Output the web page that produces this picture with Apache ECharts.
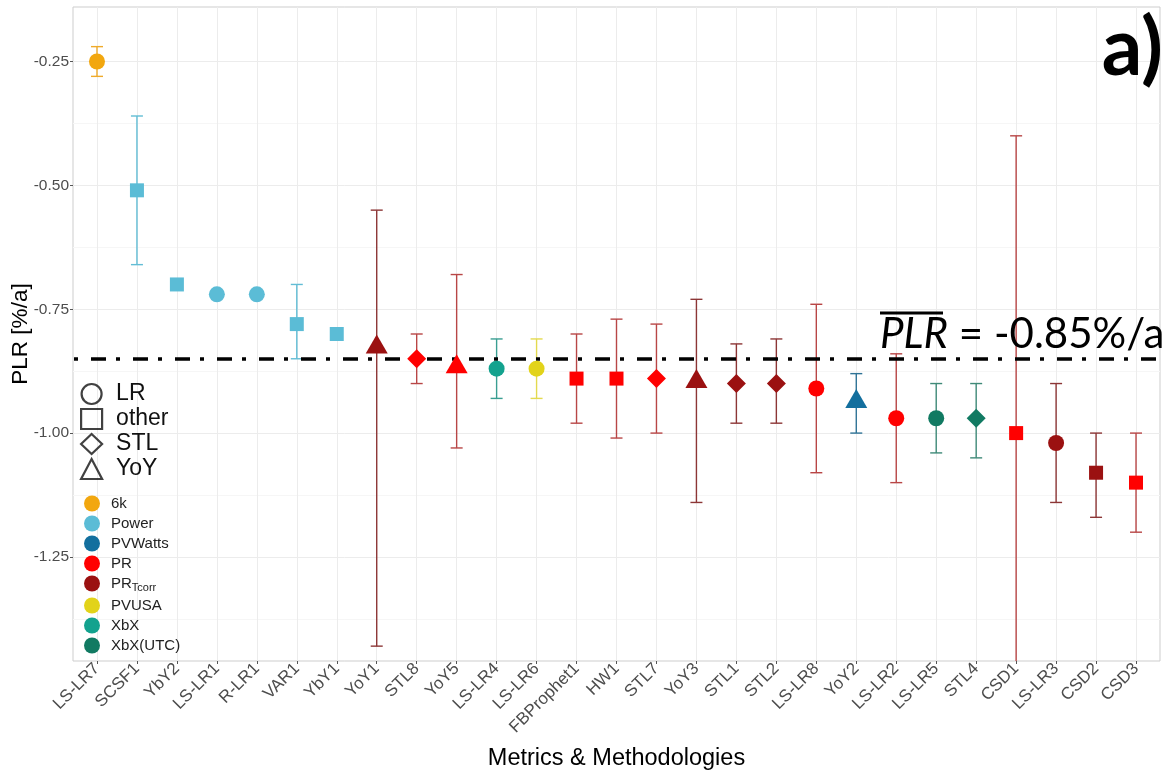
<!DOCTYPE html>
<html>
<head>
<meta charset="utf-8">
<script src="https://cdn.jsdelivr.net/npm/echarts@6/dist/echarts.min.js"></script>
<style>
  html, body { margin: 0; padding: 0; background: #fff; }
  #chart { width: 1166px; height: 774px; }
</style>
</head>
<body>
<div id="chart"></div>
<script>
// data
const methods = ['LS-LR7', 'SCSF1', 'YbY2', 'LS-LR1', 'R-LR1', 'VAR1', 'YbY1', 'YoY1', 'STL8', 'YoY5',
  'LS-LR4', 'LS-LR6', 'FBProphet1', 'HW1', 'STL7', 'YoY3', 'STL1', 'STL2', 'LS-LR8', 'YoY2',
  'LS-LR2', 'LS-LR5', 'STL4', 'CSD1', 'LS-LR3', 'CSD2', 'CSD3'];
const plr = [-0.25, -0.51, -0.70, -0.72, -0.72, -0.78, -0.80, -0.82, -0.85, -0.86,
  -0.87, -0.87, -0.89, -0.89, -0.89, -0.89, -0.90, -0.90, -0.91, -0.93,
  -0.97, -0.97, -0.97, -1.00, -1.02, -1.08, -1.10];
const upper = [-0.22, -0.36, null, null, null, -0.70, null, -0.55, -0.80, -0.68,
  -0.81, -0.81, -0.80, -0.77, -0.78, -0.73, -0.82, -0.81, -0.74, -0.88,
  -0.84, -0.90, -0.90, -0.40, -0.90, -1.00, -1.00];
const lower = [-0.28, -0.66, null, null, null, -0.85, null, -1.43, -0.90, -1.03,
  -0.93, -0.93, -0.98, -1.01, -1.00, -1.14, -0.98, -0.98, -1.08, -1.00,
  -1.10, -1.04, -1.05, -1.60, -1.14, -1.17, -1.20];
const metric = ['6k', 'Power', 'Power', 'Power', 'Power', 'Power', 'Power', 'PRTcorr', 'PR', 'PR',
  'XbX', 'PVUSA', 'PR', 'PR', 'PR', 'PRTcorr', 'PRTcorr', 'PRTcorr', 'PR', 'PVWatts',
  'PR', 'XbX(UTC)', 'XbX(UTC)', 'PR', 'PRTcorr', 'PRTcorr', 'PR'];
const methodType = ['LR', 'other', 'other', 'LR', 'LR', 'other', 'other', 'YoY', 'STL', 'YoY',
  'LR', 'LR', 'other', 'other', 'STL', 'YoY', 'STL', 'STL', 'LR', 'YoY',
  'LR', 'LR', 'STL', 'other', 'LR', 'other', 'other'];
const meanPLR = -0.85;

const metricNames = ['6k', 'Power', 'PVWatts', 'PR', 'PRTcorr', 'PVUSA', 'XbX', 'XbX(UTC)'];
const typeNames = ['LR', 'other', 'STL', 'YoY'];
const yTicks = [-1.25, -1.00, -0.75, -0.50, -0.25];
const yMinorTicks = [-1.375, -1.125, -0.875, -0.625, -0.375];

// styles
const pointColor = {
  '6k': '#F2A70F', 'Power': '#5BBCD6', 'PVWatts': '#136F9E', 'PR': '#FF0000',
  'PRTcorr': '#9B1111', 'PVUSA': '#E2D31A', 'XbX': '#13A28E', 'XbX(UTC)': '#117A62'
};
const barColor = {
  '6k': '#EFAA2A', 'Power': '#62BDD5', 'PVWatts': '#2F7396', 'PR': '#B84646',
  'PRTcorr': '#8C3636', 'PVUSA': '#E3DA4F', 'XbX': '#3A9E92', 'XbX(UTC)': '#3F8A78'
};
const shapeOf = { 'LR': 'circle', 'other': 'rect', 'STL': 'diamond', 'YoY': 'triangle' };
const sizeOf = { 'LR': 16, 'other': 14, 'STL': [19, 19], 'YoY': [22, 19] };

const font = 'Liberation Sans';
let myChart = echarts.init(document.getElementById('chart'));

let pointSeries = metricNames.map(function (m) {
  let d = [];
  for (let i = 0; i < methods.length; i++) {
    if (metric[i] !== m) continue;
    d.push({
      value: [i, plr[i]],
      symbol: shapeOf[methodType[i]],
      symbolSize: sizeOf[methodType[i]]
    });
  }
  return {
    name: m,
    type: 'scatter',
    data: d,
    z: 5,
    itemStyle: { color: pointColor[m], opacity: 1 }
  };
});

let typeSeries = typeNames.map(function (t) {
  return {
    name: t,
    type: 'scatter',
    symbol: shapeOf[t],
    data: [],
    itemStyle: { color: 'rgba(0,0,0,0)', borderColor: '#111', borderWidth: 2 }
  };
});

let barData = [];
for (let i = 0; i < methods.length; i++) {
  if (upper[i] === null) continue;
  barData.push([i, lower[i], upper[i]]);
}

let errorSeries = {
  type: 'custom',
  name: 'err',
  clip: true,
  z: 3,
  data: barData,
  renderItem: function (params, api) {
    let x = api.value(0);
    let lo = api.coord([x, api.value(1)]);
    let hi = api.coord([x, api.value(2)]);
    let c = barColor[metric[x]];
    let st = { stroke: c, lineWidth: 1.4 };
    return {
      type: 'group',
      children: [
        { type: 'line', shape: { x1: hi[0], y1: hi[1], x2: lo[0], y2: lo[1] }, style: st },
        { type: 'line', shape: { x1: hi[0] - 6, y1: hi[1], x2: hi[0] + 6, y2: hi[1] }, style: st },
        { type: 'line', shape: { x1: lo[0] - 6, y1: lo[1], x2: lo[0] + 6, y2: lo[1] }, style: st }
      ]
    };
  },
  markLine: {
    silent: true,
    symbol: 'none',
    label: { show: false },
    lineStyle: { color: '#000', width: 3.5, type: [15, 10, 4, 13], dashOffset: 24 },
    data: [{ yAxis: meanPLR }]
  }
};

let option = {
  backgroundColor: '#fff',
  animation: false,
  textStyle: { fontFamily: font },
  grid: {
    left: 73, right: 6, top: 7, bottom: 113,
    outerBoundsMode: 'none',
    containLabel: false,
    show: true, borderColor: '#cdcdcd', borderWidth: 1, backgroundColor: '#fff'
  },
  xAxis: {
    type: 'value',
    min: -0.6,
    max: 26.6,
    name: 'Metrics & Methodologies',
    nameLocation: 'middle',
    nameGap: 86,
    nameMoveOverlap: false,
    nameTextStyle: { fontSize: 23.5, color: '#000', fontFamily: font },
    axisLine: { show: false, onZero: false },
    axisTick: { show: true, length: 3, lineStyle: { color: '#555' }, customValues: methods.map((_, i) => i) },
    axisLabel: {
      customValues: methods.map((_, i) => i),
      formatter: function (v) { return methods[Math.round(v)]; },
      rotate: 45,
      margin: 5,
      fontSize: 17,
      color: '#4d4d4d',
      fontFamily: font
    },
    splitLine: { show: true, lineStyle: { color: '#ececec', width: 1 } }
  },
  yAxis: [{
    type: 'value',
    min: -1.46,
    max: -0.14,
    name: 'PLR [%/a]',
    nameLocation: 'middle',
    nameGap: 41,
    nameMoveOverlap: false,
    nameTextStyle: { fontSize: 22.5, color: '#000', fontFamily: font },
    axisLine: { show: false, onZero: false },
    axisTick: { show: true, length: 3, lineStyle: { color: '#555' }, customValues: yTicks },
    axisLabel: {
      customValues: yTicks,
      formatter: function (v) { return v.toFixed(2); },
      margin: 4,
      fontSize: 15.5,
      color: '#4d4d4d',
      fontFamily: font
    },
    splitLine: { show: true, lineStyle: { color: '#ececec', width: 1 } }
  }, {
    type: 'value',
    min: -1.46,
    max: -0.14,
    position: 'left',
    axisLine: { show: false, onZero: false },
    axisTick: { show: false, customValues: yMinorTicks },
    axisLabel: { show: false, customValues: yMinorTicks },
    splitLine: { show: true, lineStyle: { color: '#f6f6f6', width: 1 } }
  }],
  legend: [{
    orient: 'vertical',
    left: 75,
    top: 376.5,
    itemWidth: 21,
    itemHeight: 20,
    itemGap: 0,
    selectedMode: false,
    data: typeNames,
    itemStyle: { color: 'rgba(0,0,0,0)', borderColor: '#111', borderWidth: 2.2 },
    textStyle: { fontSize: 23, lineHeight: 25, color: '#111', fontFamily: font, padding: [0, 0, 0, 9] }
  }, {
    orient: 'vertical',
    left: 79,
    top: 490.5,
    itemWidth: 16,
    itemHeight: 16,
    itemGap: 4,
    icon: 'circle',
    selectedMode: false,
    data: metricNames,
    formatter: function (n) { return n === 'PRTcorr' ? 'PR{sub|Tcorr}' : n; },
    textStyle: {
      fontSize: 15, color: '#222', fontFamily: font, padding: [0, 0, 0, 6],
      rich: { sub: { fontSize: 11, color: '#222', fontFamily: font, padding: [9, 0, 0, 0] } }
    }
  }],
  graphic: [{
    type: 'text',
    x: 880,
    y: 334,
    z: 10,
    style: {
      text: '{it|PLR} = ' + meanPLR.toFixed(2) + '%/a',
      fontFamily: 'Lato',
      fontSize: 42,
      fill: '#000',
      verticalAlign: 'middle',
      rich: { it: { fontStyle: 'italic', fontFamily: 'Lato', fontSize: 42, fill: '#000' } }
    }
  }, {
    type: 'line',
    z: 10,
    shape: { x1: 880, y1: 313, x2: 943, y2: 313 },
    style: { stroke: '#000', lineWidth: 3 }
  }, {
    type: 'text',
    x: 1163,
    y: 49,
    z: 10,
    style: {
      text: 'a)',
      fontFamily: 'Lato',
      fontWeight: 'bold',
      fontSize: 80,
      fill: '#000',
      align: 'right',
      verticalAlign: 'middle'
    }
  }],
  series: [errorSeries].concat(pointSeries, typeSeries)
};

myChart.setOption(option);
</script>
</body>
</html>
